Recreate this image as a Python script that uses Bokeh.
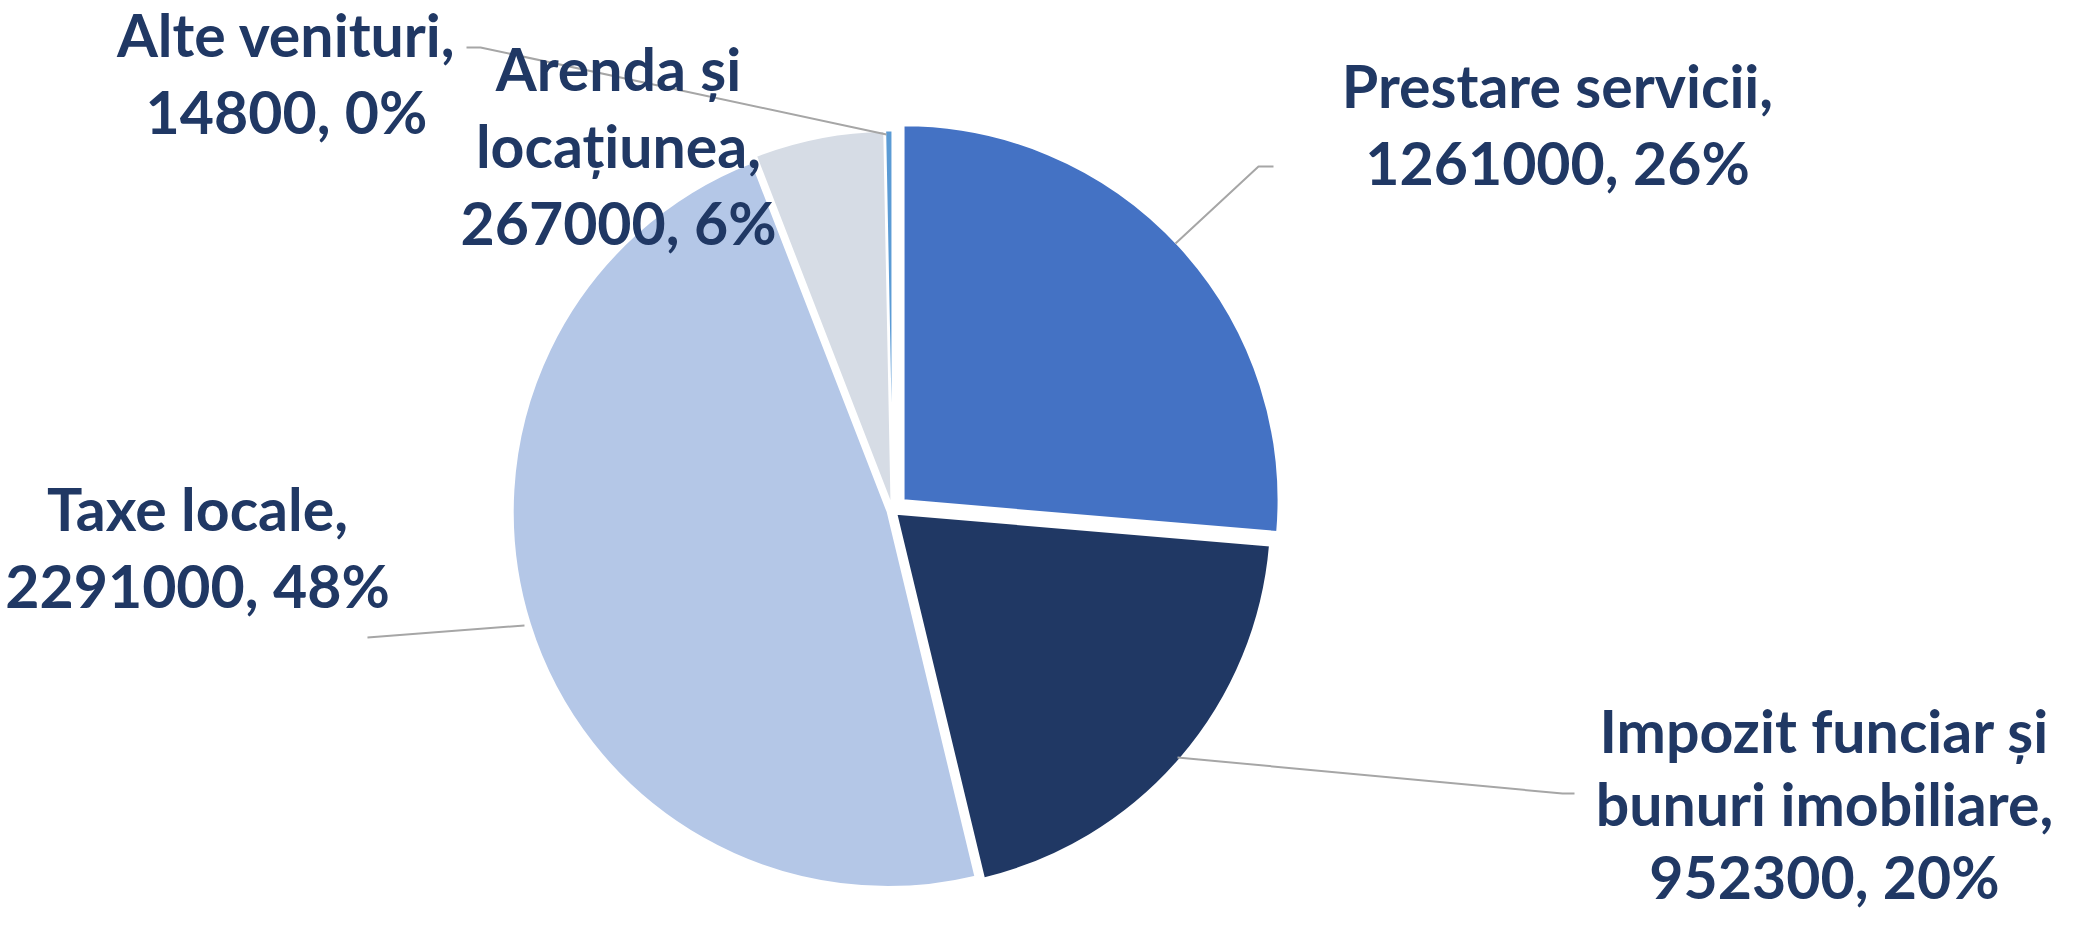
import math
from bokeh.plotting import figure
from bokeh.models import Range1d
from bokeh.core.properties import value
from bokeh.embed import file_html
from bokeh.resources import INLINE

# ---- data ----
categories = ["Prestare servicii", "Impozit funciar și bunuri imobiliare",
              "Taxe locale", "Arenda și locațiunea", "Alte venituri"]
name_lines = [["Prestare servicii"],
              ["Impozit funciar și", "bunuri imobiliare"],
              ["Taxe locale"],
              ["Arenda și", "locațiunea"],
              ["Alte venituri"]]
values = [1261000, 952300, 2291000, 267000, 14800]
colors = ["#4472C4", "#203864", "#B4C7E7", "#D6DCE5", "#5B9BD5"]
explode = [15, 5, 5, 5, 5]

# ---- layout (screen pixel coordinates of the 2095x928 page) ----
W, H = 2095, 928
CX, CY, R = 900, 518, 375
label_pos = [(1565, 93), (1832, 738), (205, 516), (626, 76), (294, 42)]
line_h = [77, 73, 77, 77, 77]
leaders = [[(1183, 251), (1266, 174), (1281, 174)],
           [(1185, 765), (1570, 801), (1582, 801)],
           [(532, 633), (375, 645)],
           None,
           [(474, 55), (488, 55), (894, 142)]]

def Y(y):
    return H - y

p = figure(width=W - 16, height=H - 16, output_backend="svg", toolbar_location=None,
           x_range=Range1d(8, W - 8), y_range=Range1d(8, H - 8),
           min_border=0)
p.axis.visible = False
p.grid.visible = False
p.outline_line_color = None
p.background_fill_color = "white"

total = sum(values)
a = 0.0
for v, c, d in zip(values, colors, explode):
    frac = v / total
    a0 = a * 2 * math.pi
    a1 = (a + frac) * 2 * math.pi
    mid = (a0 + a1) / 2
    cx = CX + d * math.sin(mid)
    cy = CY - d * math.cos(mid)
    p.wedge(x=cx, y=Y(cy), radius=R, radius_units="screen",
            start_angle=math.pi / 2 - a0, end_angle=math.pi / 2 - a1,
            direction="clock", fill_color=c, line_color="white", line_width=2)
    a += frac

for pts in leaders:
    if pts is None:
        continue
    p.line([q[0] for q in pts], [Y(q[1]) for q in pts], line_color="#A6A6A6", line_width=2)

for i, v in enumerate(values):
    pct = round(100 * v / total)
    lines = list(name_lines[i])
    lines[-1] = lines[-1] + ","
    lines.append(f"{v}, {pct}%")
    x0, y0 = label_pos[i]
    for k, t in enumerate(lines):
        p.text(x=[x0], y=[Y(y0 + k * line_h[i])], text=[t],
               text_font=value("Lato"), text_font_style="bold",
               text_font_size="59px", text_color="#203864",
               text_align="center", text_baseline="middle")

open("out.html", "w").write(file_html(p, INLINE))
